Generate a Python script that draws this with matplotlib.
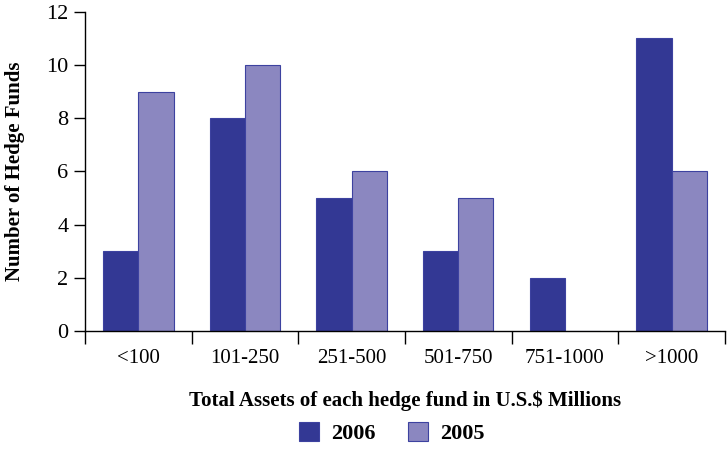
import matplotlib
matplotlib.use('Agg')
import matplotlib.pyplot as plt
import numpy as np

categories = ['<100', '101-250', '251-500', '501-750', '751-1000', '>1000']
funds_2006 = [3, 8, 5, 3, 2, 11]
funds_2005 = [9, 10, 6, 5, 0, 6]

plt.rcParams['font.family'] = ['Liberation Serif', 'DejaVu Serif']

fig = plt.figure(figsize=(7.27, 4.53), dpi=100)
ax = fig.add_axes([0.117, 0.269, 0.88, 0.705])

x = np.arange(len(categories))
w = 0.33
ax.bar(x - w / 2, funds_2006, w, color='#333894', edgecolor='#3d42a0', linewidth=0.8, label='2006')
ax.bar(x + w / 2, funds_2005, w, color='#8b87c0', edgecolor='#3d42a0', linewidth=0.8, label='2005')

ax.set_xlim(-0.5, len(categories) - 0.5)
ax.set_ylim(0, 12)
ax.set_yticks(range(0, 13, 2))
ax.set_xticks(x)
ax.set_xticklabels(categories)
ax.set_xticks(np.arange(-0.5, len(categories)), minor=True)
ax.tick_params(axis='x', which='major', length=0, pad=13, labelsize=15)
ax.tick_params(axis='x', which='minor', length=9, width=1, direction='out')
ax.tick_params(axis='y', length=8, width=1, direction='out', labelsize=16, pad=4)

for s in ['top', 'right']:
    ax.spines[s].set_visible(False)
ax.spines['left'].set_linewidth(1)
ax.spines['bottom'].set_linewidth(1)

ax.set_ylabel('Number of Hedge Funds', fontweight='bold', fontsize=15, labelpad=15)
ax.set_xlabel('Total Assets of each hedge fund in U.S.$ Millions', fontweight='bold', fontsize=15, labelpad=16)

fig.legend(loc='lower center', bbox_to_anchor=(0.5385, -0.025), ncol=2, frameon=False,
           prop={'weight': 'bold', 'size': 16}, handlelength=0.9, handleheight=0.9,
           columnspacing=1.45, handletextpad=0.55)

fig.savefig('out.png', dpi=100)
